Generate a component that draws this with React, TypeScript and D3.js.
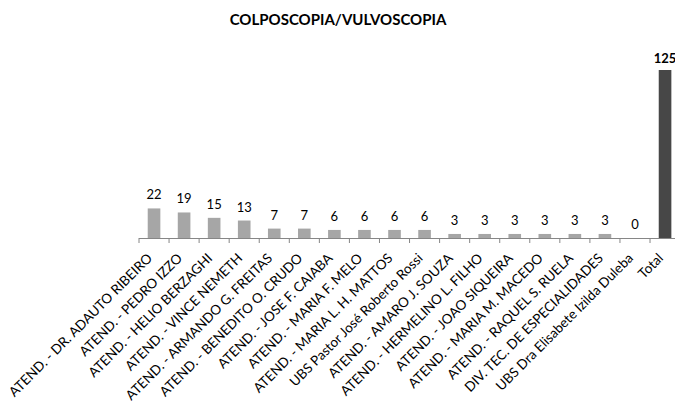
import React from "react";
import * as d3 from "d3";

const categories = [
  "ATEND. - DR. ADAUTO RIBEIRO",
  "ATEND. - PEDRO IZZO",
  "ATEND. - HELIO BERZAGHI",
  "ATEND. - VINCE NEMETH",
  "ATEND. - ARMANDO G. FREITAS",
  "ATEND. - BENEDITO O. CRUDO",
  "ATEND. - JOSE F. CAIABA",
  "ATEND. - MARIA F. MELO",
  "ATEND. - MARIA L. H. MATTOS",
  "UBS Pastor José Roberto Rossi",
  "ATEND. - AMARO J. SOUZA",
  "ATEND. - HERMELINO L. FILHO",
  "ATEND. - JOAO SIQUEIRA",
  "ATEND. - MARIA M. MACEDO",
  "ATEND. - RAQUEL S. RUELA",
  "DIV. TEC. DE ESPECIALIDADES",
  "UBS Dra Elisabete Izilda Duleba",
  "Total",
];
const values = [22, 19, 15, 13, 7, 7, 6, 6, 6, 6, 3, 3, 3, 3, 3, 3, 0, 125];
const title = "COLPOSCOPIA/VULVOSCOPIA";

const W = 675;
const H = 403;
const FONT = "Lato, 'Open Sans', sans-serif";

export default function App() {
  const x0 = 139;
  const step = 30.06;
  const x = d3
    .scaleBand<string>()
    .domain(categories)
    .range([x0, x0 + step * categories.length])
    .paddingInner(0.58)
    .paddingOuter(0.29);
  const baseY = 238;
  const y = d3.scaleLinear().domain([0, 125]).range([baseY, 70]);
  const bw = x.bandwidth();

  return (
    <svg
      width={W}
      height={H}
      style={{ position: "absolute", left: 0, top: 0, background: "#fff" }}
    >
      <text
        x={338}
        y={25}
        textAnchor="middle"
        fontFamily={FONT}
        fontWeight="bold"
        fontSize={15}
        fill="#000"
      >
        {title}
      </text>
      {categories.map((c, i) => {
        const v = values[i];
        const isTotal = c === "Total";
        const bx = x(c)!;
        const cx = bx + bw / 2;
        return (
          <g key={c}>
            <rect
              x={bx}
              y={y(v)}
              width={bw}
              height={baseY - y(v)}
              fill={isTotal ? "#474747" : "#a6a6a6"}
            />
            <text
              x={cx}
              y={y(v) - (isTotal ? 7 : 9)}
              textAnchor="middle"
              fontFamily={FONT}
              fontSize={13}
              fontWeight={isTotal ? "bold" : "normal"}
              fill="#000"
            >
              {v}
            </text>
            <text
              transform={`translate(${cx - 1},${baseY + 21}) rotate(-45)`}
              textAnchor="end"
              fontFamily={FONT}
              fontSize={13.5}
              fill="#000"
            >
              {c}
            </text>
          </g>
        );
      })}
      <line
        x1={x0}
        x2={x0 + step * categories.length}
        y1={baseY + 0.5}
        y2={baseY + 0.5}
        stroke="#868686"
        strokeWidth={1}
      />
      {d3.range(categories.length + 1).map((i) => (
        <line
          key={i}
          x1={x0 + i * step}
          x2={x0 + i * step}
          y1={baseY}
          y2={baseY + 5}
          stroke="#868686"
          strokeWidth={1}
        />
      ))}
    </svg>
  );
}
